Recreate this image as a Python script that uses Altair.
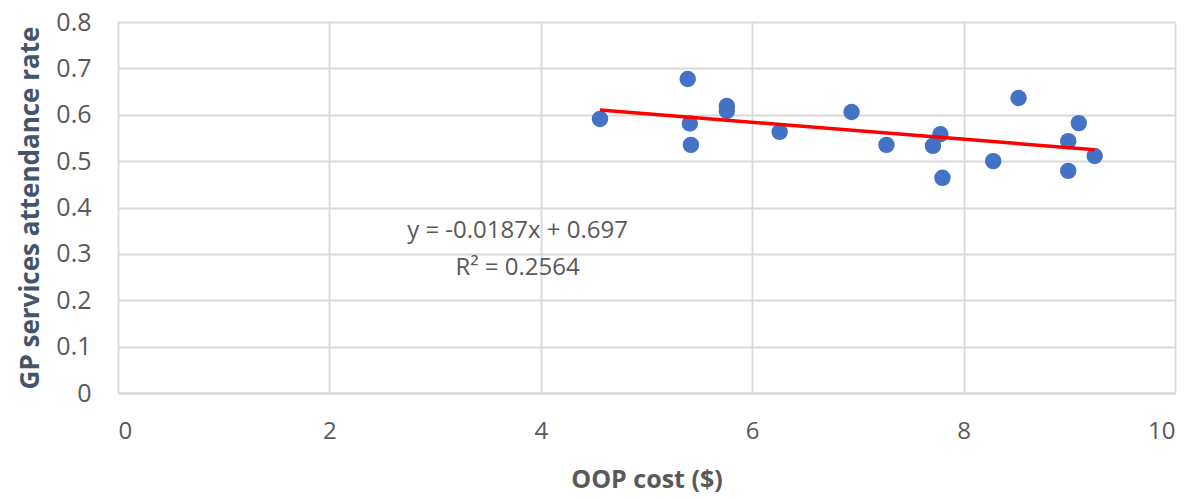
import altair as alt
import pandas as pd

oop_cost = [4.56, 5.39, 5.41, 5.42, 5.76, 5.76, 6.26, 6.94, 7.27, 7.71, 7.78, 7.80, 8.28, 8.52, 9.09, 8.99, 8.99, 9.24]
attendance = [0.591, 0.677, 0.581, 0.535, 0.619, 0.608, 0.563, 0.606, 0.535, 0.533, 0.558, 0.464, 0.500, 0.636, 0.582, 0.543, 0.479, 0.511]

eq_lines = ["y = -0.0187x + 0.697", "R² = 0.2564"]

df = pd.DataFrame({"x": oop_cost, "y": attendance})

FONT = "Open Sans"
LABEL_COLOR = "#595959"
GRID = "#D9D9D9"

xscale = alt.Scale(domain=[0, 10], nice=False, zero=True)
yscale = alt.Scale(domain=[0, 0.8], nice=False)

xaxis = alt.Axis(values=[0, 2, 4, 6, 8, 10], format="d", grid=True, gridColor=GRID, gridWidth=1.8,
                 domain=True, domainColor=GRID, domainWidth=1.8, ticks=False,
                 labelFont=FONT, labelFontSize=24, labelColor=LABEL_COLOR, labelPadding=26,
                 title="OOP cost ($)", titleFont=FONT, titleFontSize=25, titleFontWeight="bold",
                 titleColor=LABEL_COLOR, titlePadding=24)
yaxis = alt.Axis(values=[0, 0.1, 0.2, 0.3, 0.4, 0.5, 0.6, 0.7, 0.8], format=".1~f",
                 grid=True, gridColor=GRID, gridWidth=1.8,
                 domain=False, ticks=False,
                 labelFont=FONT, labelFontSize=25, labelColor=LABEL_COLOR, labelPadding=27,
                 title="GP services attendance rate", titleFont=FONT, titleFontSize=26,
                 titleFontWeight="bold", titleColor="#44546A", titlePadding=12)

points = alt.Chart(df).mark_circle(size=270, opacity=1, color="#4472C4").encode(
    x=alt.X("x:Q", scale=xscale, axis=xaxis),
    y=alt.Y("y:Q", scale=yscale, axis=yaxis),
)

trend = alt.Chart(df).transform_regression("x", "y", method="linear").mark_line(
    color="#FF0000", strokeWidth=3.5
).encode(
    x=alt.X("x:Q", scale=xscale, axis=xaxis),
    y=alt.Y("y:Q", scale=yscale, axis=yaxis),
)

eq_df = pd.DataFrame({"t": eq_lines, "xx": [3.78, 3.78], "yy": [0.349, 0.27]})
eq = alt.Chart(eq_df).mark_text(font=FONT, fontSize=24, color=LABEL_COLOR, align="center",
                                baseline="middle").encode(
    x=alt.X("xx:Q", scale=xscale, axis=xaxis),
    y=alt.Y("yy:Q", scale=yscale, axis=yaxis),
    text="t:N",
)

chart = alt.layer(points, trend, eq).properties(
    width=1057, height=371,
    autosize=alt.AutoSizeParams(type="none"),
    padding={"left": 118, "top": 22, "right": 20, "bottom": 106},
).configure_view(stroke=None).configure(background="white")

chart.save("out.html", embed_options={"renderer": "svg", "actions": False})
